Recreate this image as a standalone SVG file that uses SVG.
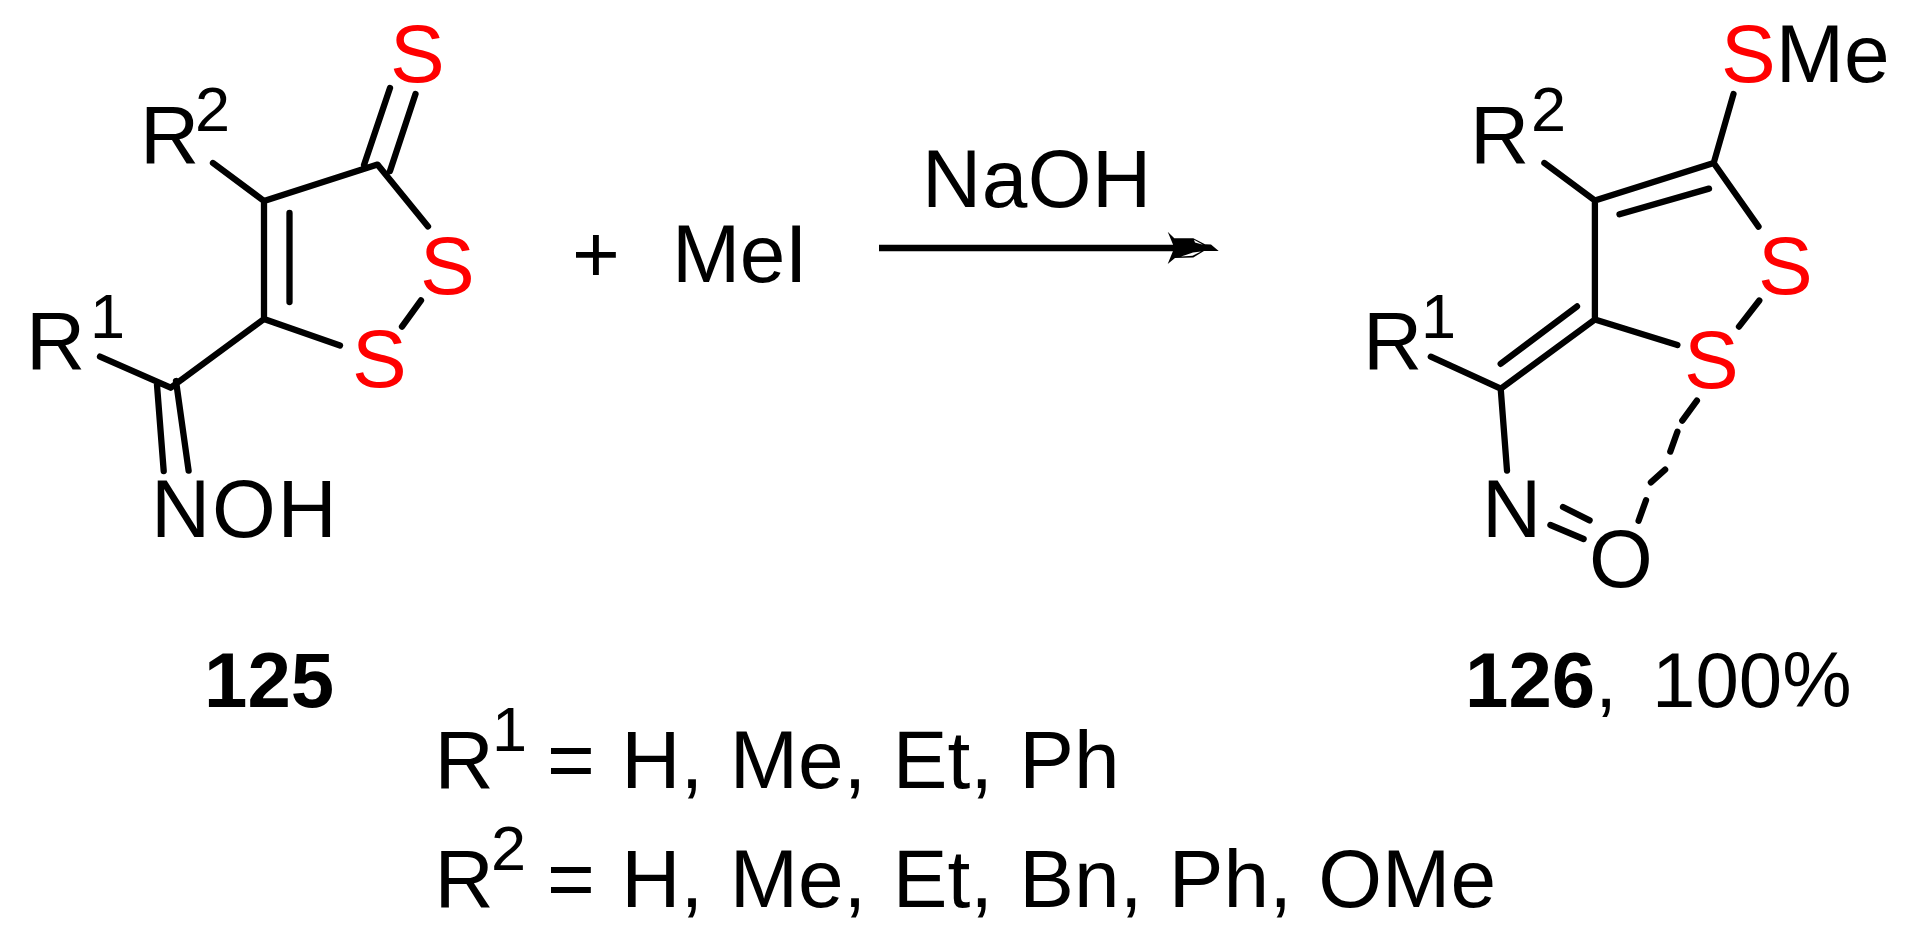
<svg xmlns="http://www.w3.org/2000/svg" width="1926" height="936" viewBox="0 0 1926 936">
<style>
text{font-family:"Liberation Sans",Arial,sans-serif;font-size:82px;fill:#000}
.s{fill:#f00}
.sup{font-size:63px}
.b{font-weight:bold}
.y{font-size:78px}
.w{word-spacing:3.6px}
#connectors path{stroke:#000;stroke-width:6.3;stroke-linecap:round;stroke-linejoin:round;fill:none}
#connectors path.arrow{stroke-width:6.6;stroke-linecap:butt}
#connectors polygon.h{fill:#000}
#connectors polygon.g{fill:#fff}
</style>
<rect width="1926" height="936" fill="#fff"/>
<g id="connectors">
<path d="M213 163L264 201L377.5 164.6L428 226.4M264 201V319L340 345.5M289.5 213V302M390 88L364 165M415.5 94L390 171M421 300.4L402 326.7M264 319L170.6 387.7L100 356.6M157 385L163.7 471M176 381L188.6 470.6"/>
<path d="M1733.5 94L1713.7 163L1594.9 200.5L1544.4 163M1619.5 214.3L1709 188.6M1713.7 163L1758.5 226.6M1759.3 300.5L1739 326.6M1594.9 200.5V319.5L1677.4 345M1594.9 319.5L1500.7 388.7L1430.8 356.7M1577 306.4L1500.7 363.8M1500.7 388.7L1507 470.5M1563 507L1589.6 520.4M1550.4 525L1583.6 539M1696.9 400.6L1682.3 420.7M1677.4 431.8L1670.3 451.6M1665.1 469.7L1650.9 482.4M1646 500.2L1638.6 520.8"/>
<path class="arrow" d="M879 248H1175"/>
<polygon class="h" points="1167.7,231.7 1174.3,238.3 1193.3,238.3 1205,244.3 1211,244.5 1218.7,251 1204,251 1193.3,257.5 1175,258 1167.7,264 1173,251 1173,244.5"/>
<polygon class="g" points="1194,239.8 1203,244.8 1195,242.5"/>
<polygon class="g" points="1181,256.6 1192.5,255.8 1201,251.6 1193,252.6"/>
</g>
<g id="compound-125">
<text x="390" y="82" class="s">S</text>
<text x="420" y="294" class="s">S</text>
<text x="352" y="387" class="s">S</text>
<text x="140" y="163">R</text><text x="195" y="131" class="sup">2</text>
<text x="26" y="369">R</text><text x="90" y="338" class="sup">1</text>
<text x="151" y="537" letter-spacing="1.8">NOH</text>
<text x="204" y="707" class="b y">125</text>
</g>
<g id="plus-mei"><text x="572" y="282">+</text><text x="672" y="282" letter-spacing="-0.6">MeI</text></g>
<g id="reagent"><text x="922" y="207" letter-spacing="0.5">NaOH</text></g>
<g id="compound-126">
<text x="1721" y="82"><tspan class="s">S</tspan>Me</text>
<text x="1758" y="294" class="s">S</text>
<text x="1684" y="388" class="s">S</text>
<text x="1470" y="163">R</text><text x="1531" y="131" class="sup">2</text>
<text x="1363" y="369">R</text><text x="1421" y="338" class="sup">1</text>
<text x="1482" y="537">N</text>
<text x="1589" y="587">O</text>
<text x="1465" y="707" class="y"><tspan class="b">126</tspan>,</text>
<text x="1652" y="707" class="y">100%</text>
</g>
<g id="legend">
<text x="434.5" y="788">R</text><text x="492" y="751" class="sup">1</text><text class="w" x="547" y="788">= H, Me, Et, Ph</text>
<text x="434.5" y="907">R</text><text x="491" y="870" class="sup">2</text><text class="w" x="547" y="907">= H, Me, Et, Bn, Ph, OMe</text>
</g>
</svg>
